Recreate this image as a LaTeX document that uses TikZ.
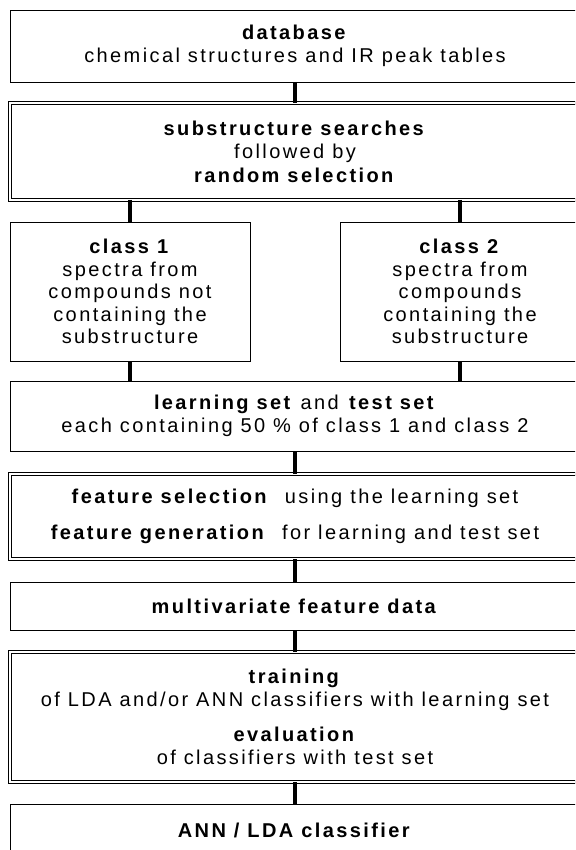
\documentclass[tikz,border=0pt]{standalone}
\usepackage{fontspec}
\setmainfont[LetterSpace=12]{Liberation Sans}
\usetikzlibrary{positioning}

\tikzset{
  box/.style = {draw, line width=0.9pt, outer sep=0pt, inner sep=0pt, align=center,
                minimum width=570pt, font=\fontsize{20}{22.5}\selectfont},
  dbox/.style = {box, double, double distance=2.4pt},
  half/.style = {minimum width=240pt},
  link/.style = {line width=3.2pt}
}

\begin{document}
\begin{tikzpicture}
  \useasboundingbox (0,0) rectangle (575pt,-850pt);
  \clip (0,0) rectangle (575pt,-850pt);
  \node[box, minimum height=72pt, anchor=north west] (db) at (10pt,-10pt)
    {\textbf{database}\\chemical structures and IR peak tables};
  \node[dbox, minimum height=97pt, below=21pt of db] (sub)
    {\textbf{substructure searches}\\[1pt]followed by\\[1pt]\textbf{random selection}};
  \node[box, half, minimum height=139pt, below right=22pt and 0pt of sub.south west] (c1)
    {\textbf{class 1}\\spectra from\\compounds not\\containing the\\substructure};
  \node[box, half, minimum height=139pt, below left=22pt and 0pt of sub.south east] (c2)
    {\textbf{class 2}\\spectra from\\compounds\\containing the\\substructure};
  \node[box, minimum height=70pt, below right=20pt and 0pt of c1.south west] (ls)
    {\textbf{learning set} and \textbf{test set}\\each containing 50 \% of class 1 and class 2};
  \node[dbox, minimum height=85pt, below=23pt of ls] (fs)
    {\textbf{feature selection}\ \ using the learning set\\[14pt]\textbf{feature generation}\ \ for learning and test set};
  \node[box, minimum height=48pt, below=23pt of fs] (mv) {\textbf{multivariate feature data}};
  \node[dbox, minimum height=130pt, below=22pt of mv] (tr)
    {\textbf{training}\\of LDA and/or ANN classifiers with learning set\\[13pt]\textbf{evaluation}\\of classifiers with test set};
  \node[box, minimum height=52pt, below=22pt of tr] (ann) {\textbf{ANN / LDA classifier}};
  % connectors
  \draw[link] (db) -- (sub);
  \draw[link] (sub.south -| c1) -- (c1);
  \draw[link] (sub.south -| c2) -- (c2);
  \draw[link] (c1) -- (c1 |- ls.north);
  \draw[link] (c2) -- (c2 |- ls.north);
  \draw[link] (ls) -- (fs);
  \draw[link] (fs) -- (mv);
  \draw[link] (mv) -- (tr);
  \draw[link] (tr) -- (ann);
\end{tikzpicture}
\end{document}
